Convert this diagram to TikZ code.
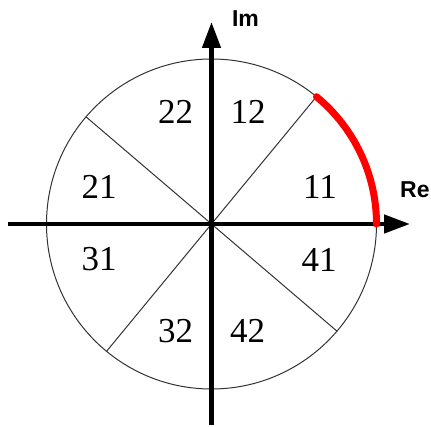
\documentclass[tikz,border=0pt]{standalone}
\usepackage{fontspec}
\setmainfont{Liberation Serif}
\newfontfamily\labelsans{Liberation Sans}
\usetikzlibrary{arrows.meta}
\begin{document}
\begin{tikzpicture}[x=1pt,y=-1pt,
  axis/.style={line width=4.5pt,-{Triangle[length=26pt,width=18pt]}},
  thin line/.style={line width=1pt,draw=black!80},
  num/.style={inner sep=0pt,font=\fontsize{35}{35}\selectfont},
  axlabel/.style={inner sep=0pt,font=\labelsans\bfseries\fontsize{23}{23}\selectfont},
  redarc/.style={draw=red,line width=7pt,line cap=round}]
\useasboundingbox (0,0) rectangle (431,427);
\coordinate (O) at (211.5,224);
\coordinate (xl) at (8,224);
\coordinate (xr) at (410,224);
\coordinate (yb) at (211.5,425);
\coordinate (yt) at (211.5,22);
\coordinate (d1) at ([shift={(50.5:165pt)}]O);
\coordinate (d3) at ([shift={(230.5:165pt)}]O);
\coordinate (d2) at ([shift={(139.5:165pt)}]O);
\coordinate (d4) at ([shift={(319.5:165pt)}]O);
\coordinate (e0) at ([shift={(0:165pt)}]O);
\draw[thin line] (O) circle[radius=165pt];
\draw[thin line] (d1) -- (d3);
\draw[thin line] (d2) -- (d4);
\draw[axis] (xl) -- (xr);
\draw[axis] (yb) -- (yt);
\draw[redarc] (e0) arc[start angle=0,end angle=50.5,radius=165pt];
\node[num] (n22) at (175.5,112) {22};
\node[num] (n12) at (248,112) {12};
\node[num] (n21) at (99,187) {21};
\node[num] (n11) at (320,187) {11};
\node[num] (n31) at (99,259.5) {31};
\node[num] (n41) at (319,259.5) {41};
\node[num] (n32) at (175.5,331) {32};
\node[num] (n42) at (247.5,331) {42};
\node[axlabel] (im) at (245.5,19) {Im};
\node[axlabel,anchor=west] (re) at (400,190) {Re};
\end{tikzpicture}
\end{document}
